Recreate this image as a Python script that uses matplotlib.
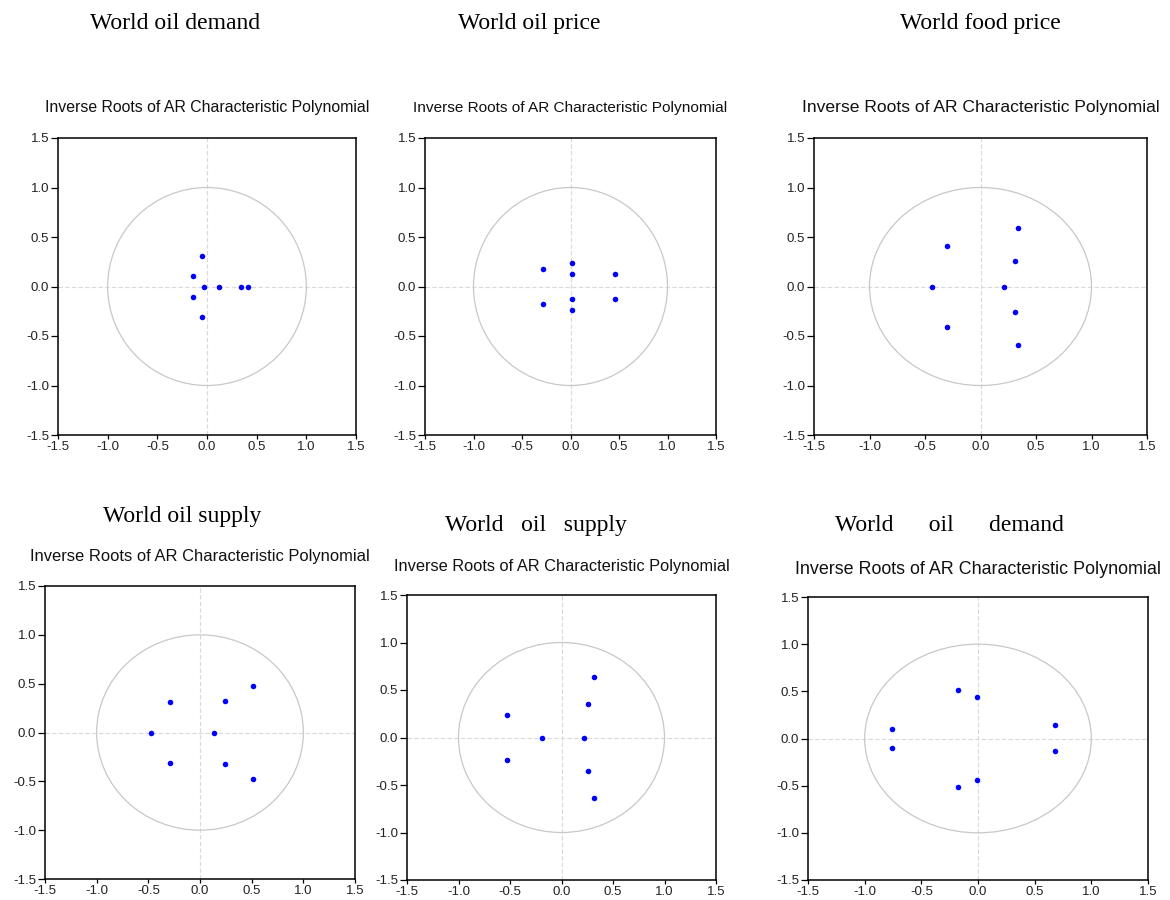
import numpy as np
import matplotlib
matplotlib.use("Agg")
import matplotlib.pyplot as plt
from matplotlib.patches import Circle

# headings above each panel
headings = ["World oil demand", "World oil price", "World food price",
            "World oil supply", "World   oil   supply", "World      oil      demand"]
sub_title = "Inverse Roots of AR Characteristic Polynomial"
ticks = [-1.5, -1.0, -0.5, 0.0, 0.5, 1.0, 1.5]

re1 = [-0.05, -0.14, -0.03, 0.12, 0.34, 0.41, -0.14, -0.05]
im1 = [0.31, 0.11, 0.0, 0.0, 0.0, 0.0, -0.11, -0.31]

re2 = [-0.28, 0.02, 0.02, 0.46, -0.28, 0.02, 0.02, 0.46]
im2 = [0.18, 0.24, 0.13, 0.13, -0.18, -0.13, -0.24, -0.13]

re3 = [0.34, -0.30, 0.31, -0.44, 0.21, 0.31, -0.30, 0.34]
im3 = [0.59, 0.41, 0.26, 0.0, 0.0, -0.26, -0.41, -0.59]

re4 = [0.51, 0.24, -0.29, -0.47, 0.14, -0.29, 0.24, 0.51]
im4 = [0.48, 0.32, 0.31, 0.0, 0.0, -0.31, -0.32, -0.48]

re5 = [0.32, 0.26, -0.53, -0.19, 0.22, -0.53, 0.26, 0.32]
im5 = [0.64, 0.35, 0.24, 0.0, 0.0, -0.24, -0.35, -0.64]

re6 = [-0.18, -0.01, -0.76, 0.68, -0.76, 0.68, -0.01, -0.18]
im6 = [0.51, 0.44, 0.10, 0.14, -0.10, -0.13, -0.44, -0.51]

real_parts = [re1, re2, re3, re4, re5, re6]
imag_parts = [im1, im2, im3, im4, im5, im6]

W, H = 1170, 900
fig = plt.figure(figsize=(W / 100, H / 100), dpi=100)

# axes boxes in pixels: left, right, top, bottom
boxes = [(58, 356, 138, 435), (425, 716, 138, 435), (814, 1147, 138, 435),
         (45, 355, 586, 879), (407, 716, 595, 880), (808, 1148, 597, 880)]
head_pos = [(175, 29), (529, 29), (980, 29), (182, 522), (536, 531), (949, 531)]
sub_base = [112, 112, 112, 561, 571, 574]
sub_size = [11.4, 11.1, 12.6, 11.9, 11.8, 12.9]

for i in range(6):
    l, r, t, b = boxes[i]
    ax = fig.add_axes([l / W, 1 - b / H, (r - l) / W, (b - t) / H])
    ax.axhline(0, color="#d9d9d9", lw=0.8, ls=(0, (4, 2)), zorder=1)
    ax.axvline(0, color="#d9d9d9", lw=0.8, ls=(0, (4, 2)), zorder=1)
    ax.add_patch(Circle((0, 0), 1, fill=False, ec="#c8c8c8", lw=0.9, zorder=2))
    ax.plot(real_parts[i], imag_parts[i], "o", color="#0000ff", ms=4, mec="none", zorder=3)
    ax.set_xlim(-1.5, 1.5)
    ax.set_ylim(-1.5, 1.5)
    ax.set_xticks(ticks)
    ax.set_yticks(ticks)
    ax.set_xticklabels([f"{v:.1f}" for v in ticks])
    ax.set_yticklabels([f"{v:.1f}" for v in ticks])
    ax.tick_params(direction="out", length=5, width=0.9, labelsize=9.5, pad=1.5,
                   top=False, right=False, labelcolor="#222222")
    ax.tick_params(axis="x", length=3, pad=1.2)
    for tl in ax.get_xticklabels() + ax.get_yticklabels():
        tl.set_fontfamily("Liberation Sans")
    for s in ax.spines.values():
        s.set_linewidth(1.1)

    cx = (l + r) / 2
    fig.text(cx / W, 1 - sub_base[i] / H, sub_title, ha="center", va="baseline",
             fontsize=sub_size[i], family="Liberation Sans", color="#111111")
    hx, hy = head_pos[i]
    fig.text(hx / W, 1 - hy / H, headings[i], ha="center", va="baseline",
             fontsize=17, family="Liberation Serif")

fig.savefig("out.png", dpi=100)
